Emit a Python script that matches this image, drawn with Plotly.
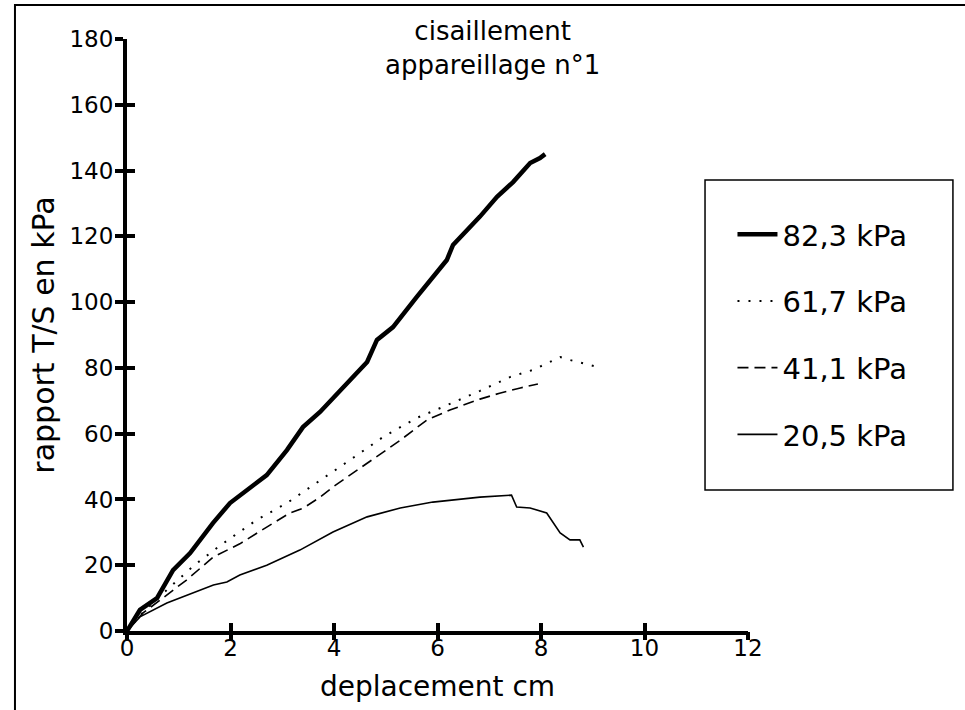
import plotly.graph_objects as go

# ---- data ----
x_823 = [0, 0.25, 0.58, 0.89, 1.22, 1.66, 1.99, 2.38, 2.7, 3.09, 3.40, 3.73, 3.98, 4.37, 4.64,
         4.83, 5.14, 5.6, 5.91, 6.18, 6.3, 6.57, 6.82, 7.15, 7.46, 7.79, 7.98, 8.08]
y_823 = [0, 6.4, 10, 18.5, 23.7, 32.8, 38.9, 43.8, 47.4, 55, 62, 66.6, 70.8, 76.9, 81.8,
         88.5, 92.4, 101.6, 107.6, 112.8, 117.4, 121.9, 126, 132, 136.5, 142.3, 143.8, 145]

x_617 = [0, 0.3, 0.77, 1.3, 1.8, 2.5, 3.09, 3.67, 4.31, 4.95, 5.6, 6.1, 6.82, 7.4, 7.85, 8.37, 8.56, 9.04]
y_617 = [0, 5.5, 12.5, 20, 26, 33.7, 38.9, 45, 52, 59, 64.8, 68.1, 73, 77.2, 79.4, 83.3, 82.4, 80.5]

x_411 = [0, 0.31, 0.64, 1.15, 1.67, 2.18, 2.7, 3.15, 3.41, 3.73, 3.98, 4.64, 5.28, 5.8, 6.24, 6.82,
         7.2, 7.6, 7.94]
y_411 = [0, 5.5, 9.4, 15.5, 22.5, 26.5, 31.6, 35.9, 37.4, 40.7, 43.8, 51, 58, 64.2, 67.2, 70.5,
         72.3, 73.9, 75.1]

x_205 = [0, 0.25, 0.77, 1.28, 1.67, 1.93, 2.18, 2.7, 3.34, 3.98, 4.64, 5.28, 5.91, 6.82, 7.43,
         7.53, 7.79, 8.11, 8.37, 8.56, 8.75, 8.82]
y_205 = [0, 4.3, 8.5, 11.6, 14, 14.9, 17, 20, 24.6, 30.1, 34.7, 37.4, 39.2, 40.7, 41.3,
         37.7, 37.4, 35.9, 29.8, 27.7, 27.7, 25.5]

series_names = ["82,3 kPa", "61,7 kPa", "41,1 kPa", "20,5 kPa"]
x_ticks = [0, 2, 4, 6, 8, 10, 12]
y_ticks = [0, 20, 40, 60, 80, 100, 120, 140, 160, 180]
title_lines = ["cisaillement", "appareillage n°1"]

FONT = "DejaVu Sans"
TICK_FS = 23

fig = go.Figure()
styles = [
    dict(width=4.5, dash="solid"),
    dict(width=2, dash="2px,9px"),
    dict(width=1.6, dash="11px,6px"),
    dict(width=1.6, dash="solid"),
]
data = [(x_823, y_823), (x_617, y_617), (x_411, y_411), (x_205, y_205)]
for (xs, ys), name, st in zip(data, series_names, styles):
    fig.add_trace(go.Scatter(x=xs, y=ys, mode="lines", name=name,
                             legendgroup=name,
                             line=dict(color="black", width=st["width"], dash=st["dash"])))

# dummy trace on overlaying axes (for crossing tick marks)
fig.add_trace(go.Scatter(x=[None], y=[None], xaxis="x2", yaxis="y2", showlegend=False,
                         hoverinfo="skip"))

tickfont = dict(family=FONT, size=TICK_FS, color="black")

fig.update_layout(
    width=965, height=710,
    margin=dict(l=127, r=217, t=39, b=79),
    paper_bgcolor="white", plot_bgcolor="white",
    font=dict(family=FONT, size=26, color="black"),
    xaxis=dict(range=[0, 12], tickvals=x_ticks, ticks="inside", ticklen=8, tickwidth=4,
               tickcolor="black", showgrid=False, zeroline=False, showline=True,
               linecolor="black", linewidth=4, tickfont=tickfont, ticklabelstandoff=-7,
               title=dict(text="deplacement cm", font=dict(family=FONT, size=28), standoff=18)),
    yaxis=dict(range=[0, 180], tickvals=y_ticks, ticks="outside", ticklen=8, tickwidth=4,
               tickcolor="black", showgrid=False, zeroline=False, showline=True,
               linecolor="black", linewidth=4, tickfont=tickfont, ticklabelstandoff=-3,
               title=dict(text="rapport T/S en kPa", font=dict(family=FONT, size=30), standoff=7)),
    xaxis2=dict(range=[0, 12], tickvals=x_ticks, ticks="outside", overlaying="x", anchor="y2",
                showticklabels=False, showgrid=False, zeroline=False, showline=False,
                tickcolor="black", tickwidth=4, ticklen=8),
    yaxis2=dict(range=[0, 180], tickvals=y_ticks, ticks="inside", overlaying="y", anchor="x2",
                showticklabels=False, showgrid=False, zeroline=False, showline=False,
                tickcolor="black", tickwidth=4, ticklen=8),
    showlegend=True,
    legend=dict(x=0.975, y=0.713, xanchor="left", yanchor="top",
                bgcolor="rgba(0,0,0,0)", borderwidth=0,
                font=dict(family=FONT, size=29, color="black"),
                tracegroupgap=26, itemwidth=40),
)

# title (two lines, one text block)
fig.add_annotation(text="<br>".join(title_lines), xref="paper", yref="paper",
                   x=0.588, y=0.9848, xanchor="center", yanchor="middle", showarrow=False,
                   align="center", font=dict(family=FONT, size=26, color="black"))

# legend box
fig.add_shape(type="rect", xref="paper", yref="paper", x0=0.9308, x1=1.330, y0=0.2382, y1=0.7618,
              line=dict(color="black", width=1.5), fillcolor="rgba(0,0,0,0)")
# outer frame
fig.add_shape(type="rect", xref="paper", yref="paper", x0=-0.1804, x1=1.37, y0=-0.16, y1=1.0574,
              line=dict(color="black", width=2), fillcolor="rgba(0,0,0,0)")

fig.write_html("out.html", config={"displayModeBar": False},
               post_script="document.body.style.margin='0px';")
